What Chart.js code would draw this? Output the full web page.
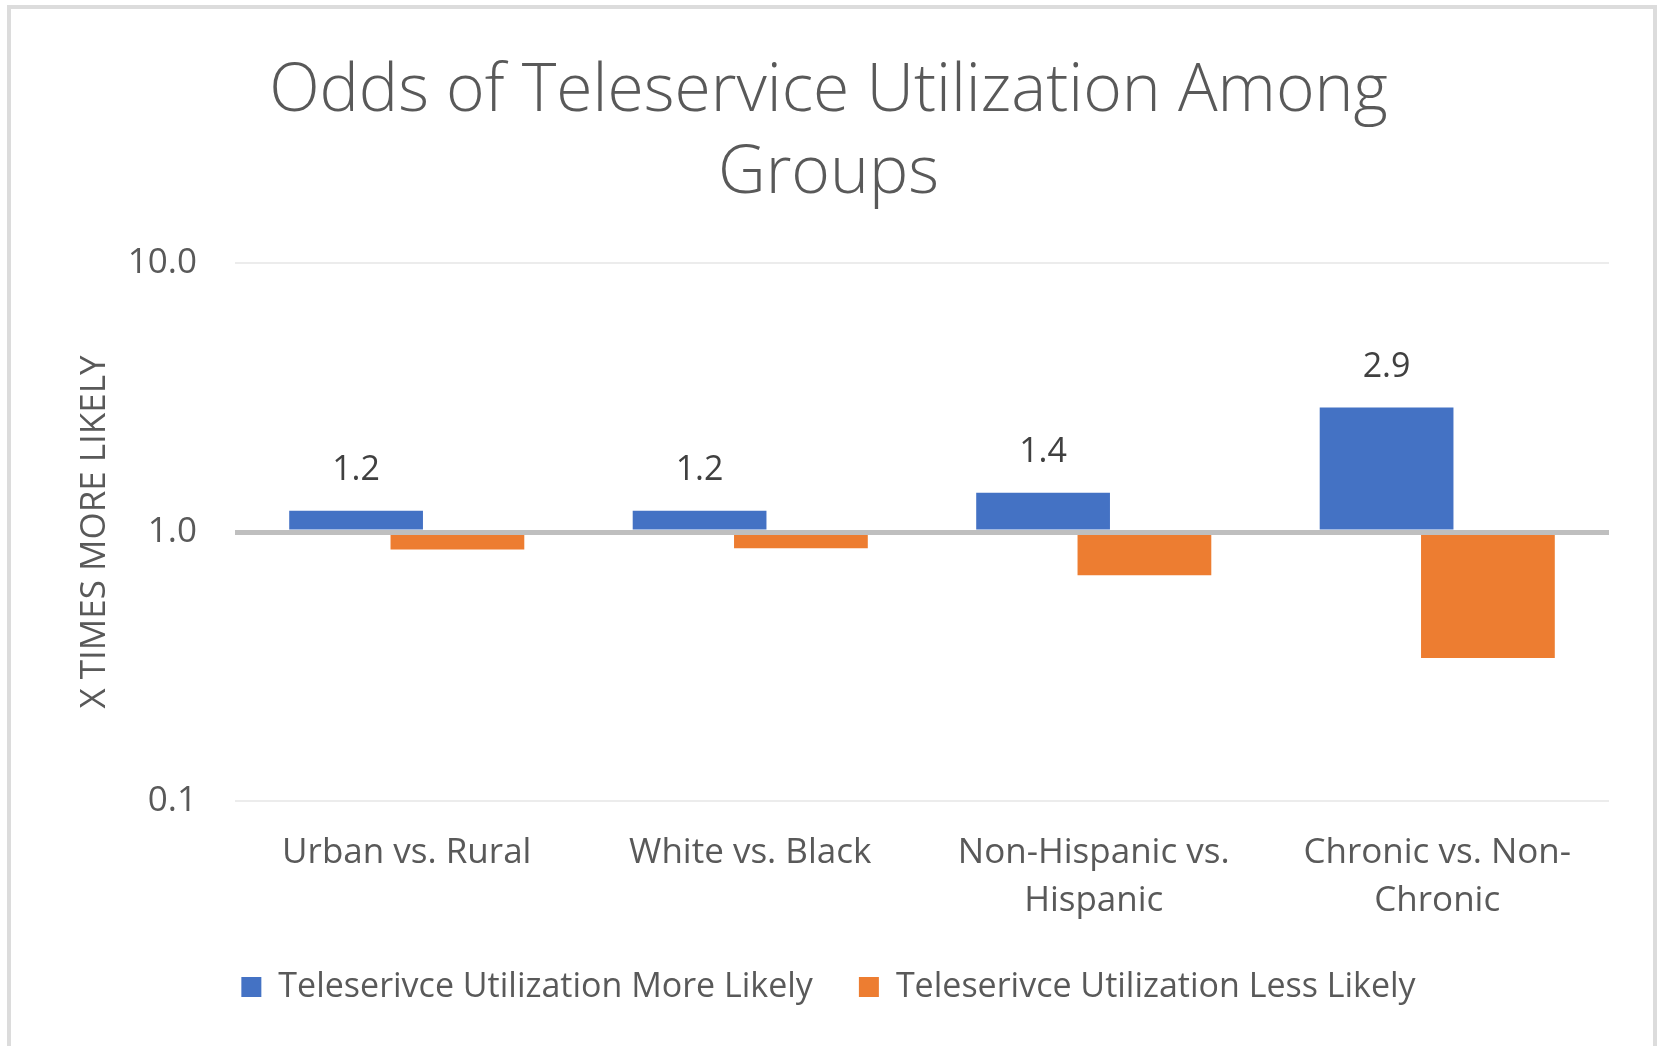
<!DOCTYPE html>
<html>
<head>
<meta charset="utf-8">
<script src="https://cdn.jsdelivr.net/npm/chart.js@4.4.1/dist/chart.umd.min.js"></script>
<style>
  html, body { margin: 0; padding: 0; background: #ffffff; }
  #wrap { position: relative; width: 1657px; height: 1046px; overflow: hidden; }
  #chart { position: absolute; left: 0; top: 0; }
  #frame {
    position: absolute; left: 7px; top: 5px; width: 1650px; height: 1100px;
    border: 4px solid #dcdcdc; box-sizing: border-box; pointer-events: none;
  }
</style>
</head>
<body>
<div id="wrap">
  <canvas id="chart" width="1657" height="1046"></canvas>
  <div id="frame"></div>
</div>
<script>
// Odds ratios per comparison group
const categories = [
  ['Urban vs. Rural'],
  ['White vs. Black'],
  ['Non-Hispanic vs.', 'Hispanic'],
  ['Chronic vs. Non-', 'Chronic']
];
const moreLikely = [1.2, 1.2, 1.4, 2.9];
const lessLikely = [0.86, 0.87, 0.69, 0.34];
const seriesNames = ['Teleserivce Utilization More Likely', 'Teleserivce Utilization Less Likely'];
const yTicks = [0.1, 1, 10];
const titleLines = ['Odds of Teleservice Utilization Among', 'Groups'];
const yTitle = 'X TIMES MORE LIKELY';

const FONT = '"Open Sans", "Noto Sans", sans-serif';
const TEXT = '#595959';

// Value labels above the "more likely" bars
const valueLabels = {
  id: 'valueLabels',
  afterDatasetsDraw(chart) {
    const ctx = chart.ctx;
    const meta = chart.getDatasetMeta(0);
    ctx.save();
    ctx.font = '34px ' + FONT;
    ctx.fillStyle = '#404040';
    ctx.textAlign = 'center';
    ctx.textBaseline = 'middle';
    meta.data.forEach((bar, i) => {
      ctx.fillText(moreLikely[i].toFixed(1), bar.x, bar.y - 40);
    });
    ctx.restore();
  }
};

new Chart(document.getElementById('chart'), {
  type: 'bar',
  data: {
    labels: categories,
    datasets: [
      {
        label: seriesNames[0],
        data: moreLikely,
        base: 1,
        backgroundColor: '#4472C4',
        borderWidth: 0,
        categoryPercentage: 0.59,
        barPercentage: 1.32
      },
      {
        label: seriesNames[1],
        data: lessLikely,
        base: 1,
        backgroundColor: '#ED7D31',
        borderWidth: 0,
        categoryPercentage: 0.59,
        barPercentage: 1.32
      }
    ]
  },
  options: {
    responsive: false,
    animation: false,
    layout: { padding: { left: 48, right: 48, top: 0, bottom: 32 } },
    scales: {
      x: {
        type: 'category',
        grid: { display: false, drawTicks: false },
        border: { display: false },
        ticks: {
          color: TEXT,
          font: { family: FONT, size: 35, lineHeight: '48px' },
          padding: 28,
          maxRotation: 0,
          autoSkip: false
        },
        afterFit(scale) { scale.height = 123; }
      },
      y: {
        type: 'logarithmic',
        min: 0.1,
        max: 10,
        afterBuildTicks(scale) { scale.ticks = yTicks.map(v => ({ value: v })); },
        afterFit(scale) { scale.width = 187; },
        border: { display: false },
        grid: {
          z: 1,
          drawTicks: false,
          color: ctx => (ctx.tick && ctx.tick.value === 1 ? '#bfbfbf' : '#ececec'),
          lineWidth: ctx => (ctx.tick && ctx.tick.value === 1 ? 5 : 2)
        },
        ticks: {
          color: TEXT,
          font: { family: FONT, size: 35 },
          padding: 38,
          callback: v => Number(v).toFixed(1)
        },
        title: {
          display: true,
          text: yTitle,
          color: TEXT,
          font: { family: FONT, size: 35, lineHeight: '42px' },
          padding: { top: 26, bottom: 0 }
        }
      }
    },
    plugins: {
      title: {
        display: true,
        text: titleLines,
        color: TEXT,
        font: { family: FONT, size: 66, weight: '300', lineHeight: '82px' },
        padding: { top: 51, bottom: 48 }
      },
      legend: {
        position: 'bottom',
        labels: {
          color: TEXT,
          font: { family: FONT, size: 34 },
          boxWidth: 20,
          boxHeight: 20,
          padding: 46
        }
      },
      tooltip: { enabled: false }
    }
  },
  plugins: [valueLabels]
});
</script>
</body>
</html>
